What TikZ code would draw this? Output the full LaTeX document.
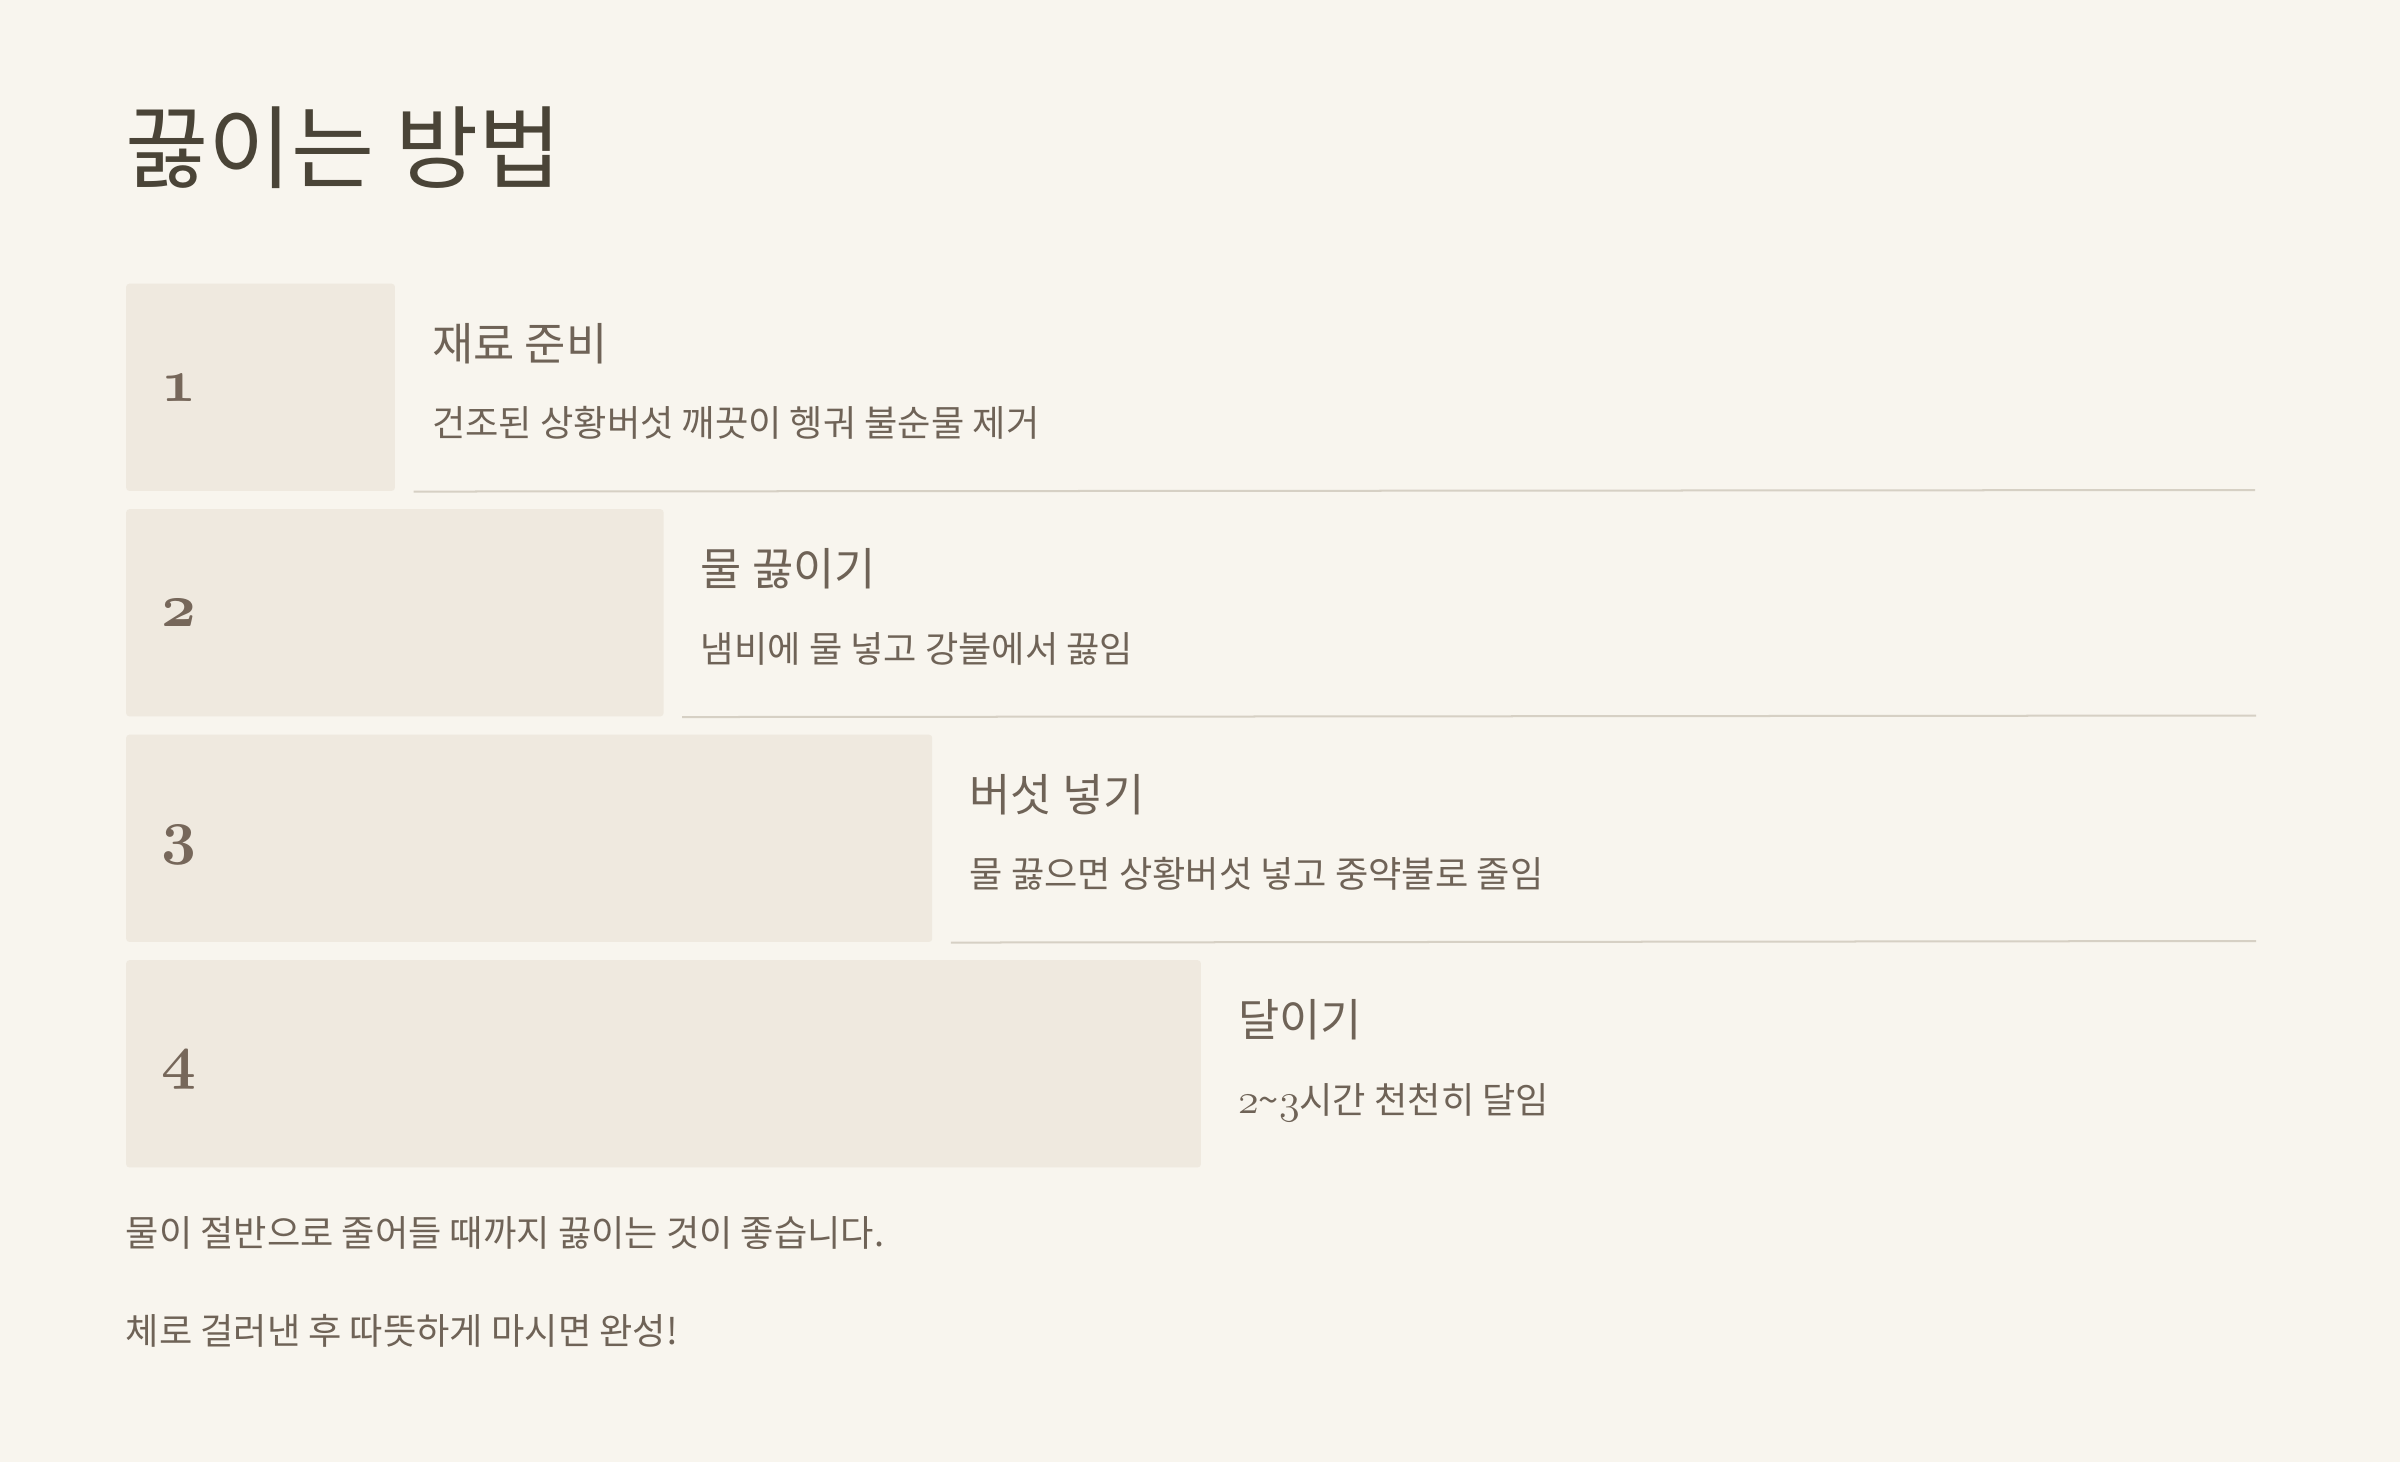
\documentclass[tikz,border=0pt]{standalone}
\usepackage{fontspec}
\setmainfont{Noto Sans CJK KR}
\usetikzlibrary{calc}
\definecolor{bgc}{HTML}{F8F5EE}
\definecolor{boxc}{HTML}{EFE9DF}
\definecolor{titlec}{HTML}{4A4437}
\definecolor{txtc}{HTML}{6F6357}
\definecolor{numc}{HTML}{76675A}
\definecolor{rulec}{HTML}{D6D0C4}
\newcommand\osnum[1]{{\fontsize{13}{14}\usefont{OML}{cmm}{m}{it}#1}}
\tikzset{
  stepbox/.style={fill=boxc, rounded corners=0.03cm, draw=none, inner sep=0pt,
    minimum height=2.07cm, anchor=north west},
  numtxt/.style={anchor=base west, inner sep=0pt, text=numc,
    font=\fontsize{17.5}{18}\selectfont\usefont{OML}{cmm}{b}{it}},
  headtxt/.style={anchor=west, inner sep=0pt, text=txtc, font=\fontsize{12.75}{14}\selectfont},
  desctxt/.style={anchor=west, inner sep=0pt, text=txtc, font=\fontsize{10.3}{12}\selectfont},
  steprule/.style={draw=rulec, line width=0.02cm}
}
\begin{document}
\begin{tikzpicture}[x=0.01cm, y=-0.01cm]
\fill[bgc] (0,0) rectangle (2400,1462);
\useasboundingbox (0,0) rectangle (2400,1462);

\node[anchor=west, inner sep=0pt, text=titlec, font=\fontsize{25.7}{28}\selectfont] (title) at (125,148) {끓이는 방법};

% step boxes
\node[stepbox, minimum width=2.685cm] (b1) at (125.5,283) {};
\node[stepbox, minimum width=5.37cm] (b2) at (125.5,508.5) {};
\node[stepbox, minimum width=8.055cm] (b3) at (125.5,734) {};
\node[stepbox, minimum width=10.74cm] (b4) at (125.5,959.5) {};

% numbers
\node[numtxt] (n1) at ($(b1.west)+(35,14)$) {1};
\node[numtxt] (n2) at ($(b2.west)+(35,14)$) {2};
\node[numtxt] (n3) at ($(b3.west)+(35,14)$) {3};
\node[numtxt] (n4) at ($(b4.west)+(35,14)$) {4};

% headings
\node[headtxt] (h1) at ($(b1.north east)+(36,60.5)$) {재료 준비};
\node[headtxt] (h2) at ($(b2.north east)+(36,60.5)$) {물 끓이기};
\node[headtxt] (h3) at ($(b3.north east)+(36,60.5)$) {버섯 넣기};
\node[headtxt] (h4) at ($(b4.north east)+(36,60.5)$) {달이기};

% descriptions
\node[desctxt] (d1) at ($(b1.north east)+(36,140)$) {건조된 상황버섯 깨끗이 헹궈 불순물 제거};
\node[desctxt] (d2) at ($(b2.north east)+(36,140)$) {냄비에 물 넣고 강불에서 끓임};
\node[desctxt] (d3) at ($(b3.north east)+(36,140)$) {물 끓으면 상황버섯 넣고 중약불로 줄임};
\node[desctxt] (d4) at ($(b4.north east)+(36,140)$) {\smash{\osnum{2}}\char"007E\smash{\osnum{3}}시간 천천히 달임};

% rules
\coordinate (r1) at ($(b1.south east)+(18,0)$);
\coordinate (r2) at ($(b2.south east)+(18,0)$);
\coordinate (r3) at ($(b3.south east)+(18,0)$);
\coordinate (e1) at (2255,490);
\coordinate (e2) at (2256,715.5);
\coordinate (e3) at (2256,941);
\draw[steprule] (r1) -- (e1);
\draw[steprule] (r2) -- (e2);
\draw[steprule] (r3) -- (e3);

% footer
\node[desctxt] (f1) at (125,1233) {물이 절반으로 줄어들 때까지 끓이는 것이 좋습니다.};
\node[desctxt] (f2) at (125,1331) {체로 걸러낸 후 따뜻하게 마시면 완성!};
\end{tikzpicture}
\end{document}
